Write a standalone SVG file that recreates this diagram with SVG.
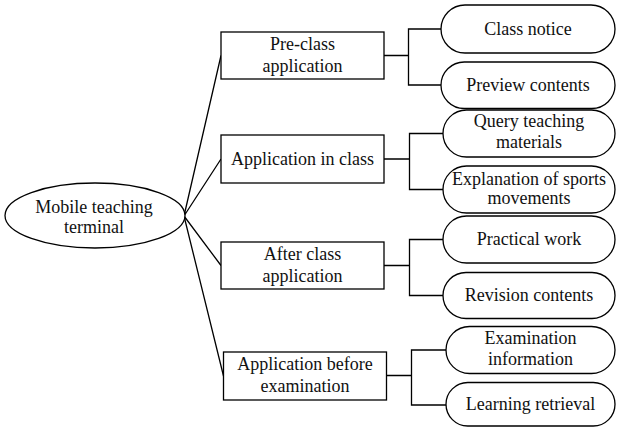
<svg xmlns="http://www.w3.org/2000/svg" width="617" height="427" viewBox="0 0 617 427">
<style>
.s{fill:#fff;stroke:#000;stroke-width:1.3}
.c{fill:none;stroke:#000;stroke-width:1.3}
text{font-family:"Liberation Serif","Times New Roman",serif;font-size:18px;fill:#111;text-anchor:middle}
</style>
<rect width="617" height="427" fill="#fff"/>
<g id="connectors">
<path class="c" d="M184,216 L221,55.5 M184,216 L221,159 M184,216 L221,265.5 M184,216 L223.5,376"/>
<path class="c" d="M384,55.5 H408.5 M441,29 H408.5 V85 H441"/>
<path class="c" d="M384,159 H409.5 M443,133.5 H409.5 V189.5 H443"/>
<path class="c" d="M384,265.5 H409.5 M443,239.5 H409.5 V295.5 H443"/>
<path class="c" d="M387,375.5 H411.5 M446,350 H411.5 V405 H446"/>
</g>
<g id="root">
<ellipse class="s" cx="95" cy="215.5" rx="90" ry="32.5"/>
<text x="94" y="213">Mobile teaching</text>
<text x="94" y="233">terminal</text>
</g>
<g id="pre">
<rect class="s" x="221" y="32" width="163" height="47"/>
<text x="302.5" y="50">Pre-class</text>
<text x="302.5" y="71.5">application</text>
</g>
<g id="inclass">
<rect class="s" x="221" y="135" width="163" height="48"/>
<text x="302.5" y="165">Application in class</text>
</g>
<g id="after">
<rect class="s" x="221" y="242" width="163" height="47"/>
<text x="302.5" y="260">After class</text>
<text x="302.5" y="281.5">application</text>
</g>
<g id="before">
<rect class="s" x="223.5" y="352" width="163" height="48"/>
<text x="305" y="370">Application before</text>
<text x="305" y="391.5">examination</text>
</g>
<g id="p1">
<rect class="s" x="441" y="5" width="174" height="48" rx="24"/>
<text x="528" y="35">Class notice</text>
</g>
<g id="p2">
<rect class="s" x="441" y="62" width="174" height="46.5" rx="23.25"/>
<text x="528" y="90.5">Preview contents</text>
</g>
<g id="p3">
<rect class="s" x="443" y="110" width="172" height="47" rx="23.5"/>
<text x="529" y="126.5">Query teaching</text>
<text x="529" y="148">materials</text>
</g>
<g id="p4">
<rect class="s" x="443" y="166" width="172" height="47" rx="23.5"/>
<text x="529" y="185">Explanation of sports</text>
<text x="529" y="204">movements</text>
</g>
<g id="p5">
<rect class="s" x="443" y="216" width="172" height="47" rx="23.5"/>
<text x="529" y="245">Practical work</text>
</g>
<g id="p6">
<rect class="s" x="443" y="272.5" width="172" height="46" rx="23"/>
<text x="529" y="300.5">Revision contents</text>
</g>
<g id="p7">
<rect class="s" x="446" y="326.5" width="169" height="47" rx="23.5"/>
<text x="530.5" y="343.5">Examination</text>
<text x="530.5" y="365">information</text>
</g>
<g id="p8">
<rect class="s" x="446" y="382.5" width="169" height="43.5" rx="21.75"/>
<text x="530.5" y="410">Learning retrieval</text>
</g>
</svg>
